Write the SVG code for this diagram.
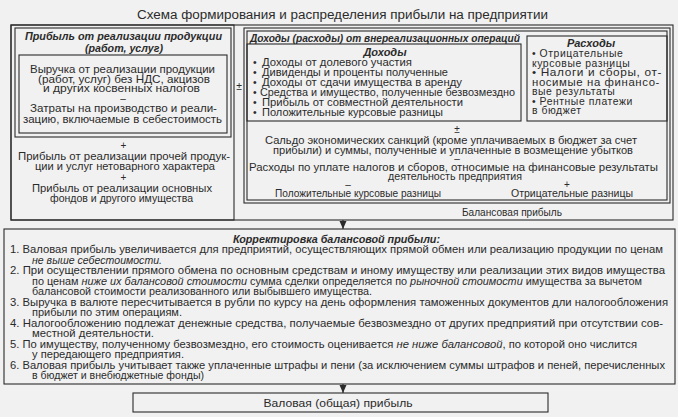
<svg xmlns="http://www.w3.org/2000/svg" width="678" height="417" viewBox="0 0 678 417">
<defs>
<style>
.t{font-family:"Liberation Sans",Arial,sans-serif;font-size:10.4px;fill:#2b2b2b}
.c{text-anchor:middle}
.bi{font-weight:bold;font-style:italic}
.i{font-style:italic}
.s{font-size:10px}
.r{letter-spacing:0.55px}
.b{fill:none;stroke:#2b2b2b;stroke-width:1.1}
.ln{stroke:#2b2b2b;stroke-width:1.1;fill:none}
</style>
<marker id="ah" viewBox="0 0 8 8" refX="8" refY="4" markerWidth="8" markerHeight="8" markerUnits="userSpaceOnUse" orient="auto">
<path d="M0,0.5 L8,4 L0,7.5 Z" fill="#2b2b2b"/>
</marker>
</defs>
<rect x="0" y="0" width="678" height="417" fill="#f1f1f1"/>

<g id="title">
<text class="t c" x="342.5" y="18.5" style="font-size:12.5px" textLength="411" lengthAdjust="spacingAndGlyphs">Схема формирования и распределения прибыли на предприятии</text>
</g>

<g id="outer-frame">
<rect class="b" x="11" y="25" width="662" height="195"/>
</g>

<g id="left-column">
<rect class="b" x="11" y="25" width="223" height="195"/>
<text class="t c s" x="123.5" y="149">+</text>
<text class="t c" x="124" y="159.5" textLength="212" lengthAdjust="spacingAndGlyphs">Прибыль от реализации прочей продук-</text>
<text class="t c" x="125" y="170" textLength="180" lengthAdjust="spacingAndGlyphs">ции и услуг нетоварного характера</text>
<text class="t c s" x="123.5" y="180.5">+</text>
<text class="t c" x="122" y="191.5" textLength="180" lengthAdjust="spacingAndGlyphs">Прибыль от реализации основных</text>
<text class="t c" x="121.5" y="202" textLength="143" lengthAdjust="spacingAndGlyphs">фондов и другого имущества</text>
</g>

<g id="pribyl-realizacii">
<rect class="b" x="15" y="28" width="216" height="109"/>
<text class="t c bi" x="123.5" y="40" textLength="197" lengthAdjust="spacingAndGlyphs">Прибыль от реализации продукции</text>
<text class="t c bi" x="124" y="51.5" textLength="78" lengthAdjust="spacingAndGlyphs">(работ, услуг)</text>
</g>

<g id="vyruchka">
<rect class="b" x="19" y="55" width="208" height="78"/>
<text class="t c" x="122.5" y="72.5" textLength="185" lengthAdjust="spacingAndGlyphs">Выручка от реализации продукции</text>
<text class="t c" x="124" y="82.5" textLength="172" lengthAdjust="spacingAndGlyphs">(работ, услуг) без НДС, акцизов</text>
<text class="t c" x="121.5" y="92" textLength="157" lengthAdjust="spacingAndGlyphs">и других косвенных налогов</text>
<text class="t c s" x="123" y="101.5">–</text>
<text class="t c" x="123.5" y="112" textLength="187" lengthAdjust="spacingAndGlyphs">Затраты на производство и реали-</text>
<text class="t c" x="122.5" y="122.5" textLength="199" lengthAdjust="spacingAndGlyphs">зацию, включаемые в себестоимость</text>
</g>

<g id="plusminus-left">
<text class="t c" x="239" y="90">±</text>
</g>

<g id="vnerealizacionnye">
<rect class="b" x="244" y="28" width="426" height="175"/>
<rect class="b" x="247" y="31" width="420" height="169"/>
<text class="t bi" x="250" y="41.5" textLength="270" lengthAdjust="spacingAndGlyphs">Доходы (расходы) от внереализационных операций</text>
<text class="t c s" x="457" y="132.5">±</text>
<text class="t c" x="451" y="144" textLength="372" lengthAdjust="spacingAndGlyphs">Сальдо экономических санкций (кроме уплачиваемых в бюджет за счет</text>
<text class="t c" x="453" y="153.5" textLength="360" lengthAdjust="spacingAndGlyphs">прибыли) и суммы, полученные и уплаченные в возмещение убытков</text>
<text class="t c s" x="457" y="161.5">–</text>
<text class="t c" x="453.5" y="170.5" textLength="409" lengthAdjust="spacingAndGlyphs">Расходы по уплате налогов и сборов, относимые на финансовые результаты</text>
<text class="t c" x="455" y="179.5" textLength="134" lengthAdjust="spacingAndGlyphs">деятельность предприятия</text>
<text class="t c s" x="348" y="188">–</text>
<text class="t c s" x="567" y="188">+</text>
<text class="t c" x="358" y="197" textLength="166" lengthAdjust="spacingAndGlyphs">Положительные курсовые разницы</text>
<text class="t c" x="572" y="197" textLength="122" lengthAdjust="spacingAndGlyphs">Отрицательные разницы</text>
</g>

<g id="dohody">
<rect class="b" x="247" y="44" width="274" height="77"/>
<text class="t c bi" x="385" y="56" style="font-size:11px">Доходы</text>
<text class="t" x="253" y="66">•</text>
<text class="t" x="262" y="66" textLength="150" lengthAdjust="spacingAndGlyphs">Доходы от долевого участия</text>
<text class="t" x="253" y="76">•</text>
<text class="t" x="262" y="76" textLength="186" lengthAdjust="spacingAndGlyphs">Дивиденды и проценты полученные</text>
<text class="t" x="253" y="86">•</text>
<text class="t" x="262" y="86" textLength="200" lengthAdjust="spacingAndGlyphs">Доходы от сдачи имущества в аренду</text>
<text class="t" x="253" y="96">•</text>
<text class="t" x="260" y="96" textLength="255" lengthAdjust="spacingAndGlyphs">Средства и имущество, полученные безвозмездно</text>
<text class="t" x="253" y="106">•</text>
<text class="t" x="262" y="106" textLength="201" lengthAdjust="spacingAndGlyphs">Прибыль от совместной деятельности</text>
<text class="t" x="253" y="116">•</text>
<text class="t" x="262" y="116" textLength="181" lengthAdjust="spacingAndGlyphs">Положительные курсовые разницы</text>
</g>

<g id="rashody">
<rect class="b" x="527" y="36" width="140" height="85"/>
<text class="t c bi" x="591" y="47" style="font-size:11px">Расходы</text>
<text class="t r" x="532" y="57">• Отрицательные</text>
<text class="t r" x="532" y="66.5">курсовые разницы</text>
<text class="t r" x="532" y="76" textLength="130" lengthAdjust="spacingAndGlyphs">• Налоги и сборы, от-</text>
<text class="t r" x="532" y="85.5" textLength="128" lengthAdjust="spacingAndGlyphs">носимые на финансо-</text>
<text class="t r" x="532" y="95">вые результаты</text>
<text class="t r" x="532" y="104.5">• Рентные платежи</text>
<text class="t r" x="532" y="114">в бюджет</text>
</g>

<g id="balansovaya">
<text class="t c" x="512" y="215.5" textLength="100" lengthAdjust="spacingAndGlyphs">Балансовая прибыль</text>
</g>

<g id="korrektirovka">
<rect class="b" x="4" y="229" width="671" height="155"/>
<text class="t c bi" x="336.5" y="242.5" textLength="207" lengthAdjust="spacingAndGlyphs">Корректировка балансовой прибыли:</text>
<text class="t" x="10" y="253" textLength="653" lengthAdjust="spacingAndGlyphs">1. Валовая прибыль увеличивается для предприятий, осуществляющих прямой обмен или реализацию продукции по ценам</text>
<text class="t i" x="32" y="263.5" textLength="130" lengthAdjust="spacingAndGlyphs">не выше себестоимости.</text>
<text class="t" x="10" y="274" textLength="655" lengthAdjust="spacingAndGlyphs">2. При осуществлении прямого обмена по основным средствам и иному имуществу или реализации этих видов имущества</text>
<text class="t" x="32" y="284.5" textLength="610" lengthAdjust="spacingAndGlyphs">по ценам <tspan class="i">ниже их балансовой стоимости</tspan> сумма сделки определяется по <tspan class="i">рыночной стоимости</tspan> имущества за вычетом</text>
<text class="t" x="32" y="295" textLength="340" lengthAdjust="spacingAndGlyphs">балансовой стоимости реализованного или выбывшего имущества.</text>
<text class="t" x="10" y="305.5" textLength="658" lengthAdjust="spacingAndGlyphs">3. Выручка в валюте пересчитывается в рубли по курсу на день оформления таможенных документов дли налогообложения</text>
<text class="t" x="32" y="316" textLength="150" lengthAdjust="spacingAndGlyphs">прибыли по этим операциям.</text>
<text class="t" x="10" y="326.5" textLength="653" lengthAdjust="spacingAndGlyphs">4. Налогообложению подлежат денежные средства, получаемые безвозмездно от других предприятий при отсутствии сов-</text>
<text class="t" x="32" y="337" textLength="122" lengthAdjust="spacingAndGlyphs">местной деятельности.</text>
<text class="t" x="10" y="347.5" textLength="627" lengthAdjust="spacingAndGlyphs">5. По имуществу, полученному безвозмездно, его стоимость оценивается <tspan class="i">не ниже балансовой</tspan>, по которой оно числится</text>
<text class="t" x="32" y="358" textLength="152" lengthAdjust="spacingAndGlyphs">у передающего предприятия.</text>
<text class="t" x="10" y="368.5" textLength="655" lengthAdjust="spacingAndGlyphs">6. Валовая прибыль учитывает также уплаченные штрафы и пени (за исключением суммы штрафов и пеней, перечисленных</text>
<text class="t" x="32" y="379" textLength="172" lengthAdjust="spacingAndGlyphs">в бюджет и внебюджетные фонды)</text>
</g>

<g id="valovaya">
<rect class="b" x="133" y="393" width="415" height="19"/>
<text class="t c" x="338" y="406.5" style="font-size:11px" textLength="149" lengthAdjust="spacingAndGlyphs">Валовая (общая) прибыль</text>
</g>

<g id="connectors">
<line class="ln" x1="343" y1="220" x2="343" y2="229" marker-end="url(#ah)"/>
<line class="ln" x1="343" y1="384" x2="343" y2="393" marker-end="url(#ah)"/>
</g>
</svg>
